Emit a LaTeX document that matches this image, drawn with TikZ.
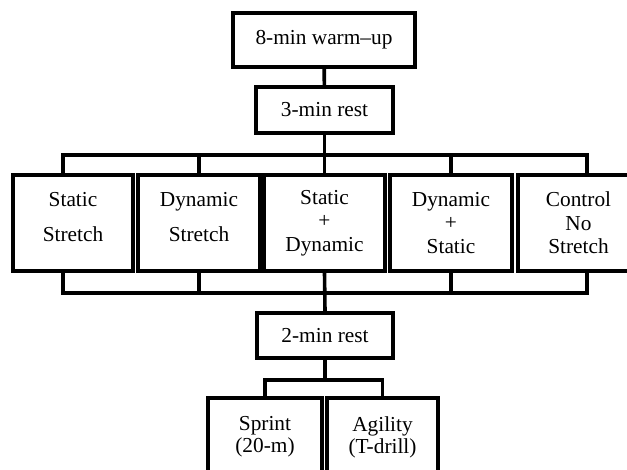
\documentclass[tikz,border=0pt]{standalone}
\usepackage{fontspec}
\setmainfont{Liberation Serif}
\usetikzlibrary{positioning,calc}
\tikzset{%
	block/.style  = {draw, rectangle, line width=2.7pt, inner sep=0pt, align=center,
	                 font=\fontsize{16}{17.6}\selectfont}, % box
	boxsize/.style 2 args = {minimum width=#1*0.75pt, minimum height=#2*0.75pt}, % size in px
	link/.style   = {line width=2.7pt, line join=miter}, % connector
	waypoint/.style = {coordinate},
}
\begin{document}
\begin{tikzpicture}[x=0.75pt,y=-0.75pt]
	\useasboundingbox (0,0) rectangle (627,470);
	\clip (0,0) rectangle (627,470);
	% top
	\node[block, boxsize={182}{54}] (warm) at (324,40) {8-min warm--up};
	\node[block, boxsize={137}{46}] (rest3) at (324.5,110) {3-min rest};
	% stretch groups
	\node[block, boxsize={120}{96}] (ss) at (73,223) {Static\\[8.4pt]Stretch\\[-9pt]~};
	\node[block, boxsize={122}{96}] (ds) at (199,223) {Dynamic\\[8.4pt]Stretch\\[-9pt]~};
	\node[block, boxsize={121}{96}] (sd) at (324.5,223) {Static\\+\\Dynamic};
	\node[block, boxsize={122}{96}] (dst) at (451,223) {Dynamic\\+\\Static};
	\node[block, boxsize={121}{96}] (ctl) at (578.5,223) {Control\\No\\Stretch};
	% bottom
	\node[block, boxsize={136}{45}] (rest2) at (325,335.5) {2-min rest};
	\node[block, boxsize={114}{78}, font=\fontsize{16}{16.5}\selectfont] (sprint) at (265,437) {Sprint\\(20-m)};
	\node[block, boxsize={111}{78}, font=\fontsize{16}{16.5}\selectfont] (agil) at (382.5,437) {Agility\\(T-drill)};
	% buses
	\node[waypoint] (upL) at (63,155) {};
	\node[waypoint] (upR) at (587,155) {};
	\node[waypoint] (loL) at (63,293) {};
	\node[waypoint] (loR) at (587,293) {};
	\node[waypoint] (tB) at (325,380) {};
	\draw[link] (warm) -- (rest3);
	\draw[link] (rest3.south) -- (rest3.south |- upL);
	\draw[link] (upL |- ss.north) -- (upL) -- (upR) -- (upR |- ctl.north);
	\draw[link] (ds.north) -- (ds.north |- upL);
	\draw[link] (sd.north) -- (sd.north |- upL);
	\draw[link] (dst.north) -- (dst.north |- upL);
	\draw[link] (loL |- ss.south) -- (loL) -- (loR) -- (loR |- ctl.south);
	\draw[link] (ds.south) -- (ds.south |- loL);
	\draw[link] (sd.south) -- (rest2.north);
	\draw[link] (dst.south) -- (dst.south |- loL);
	\draw[link] (rest2.south) -- (tB);
	\draw[link] (sprint.north) |- (tB) -| (agil.north);
\end{tikzpicture}
\end{document}
